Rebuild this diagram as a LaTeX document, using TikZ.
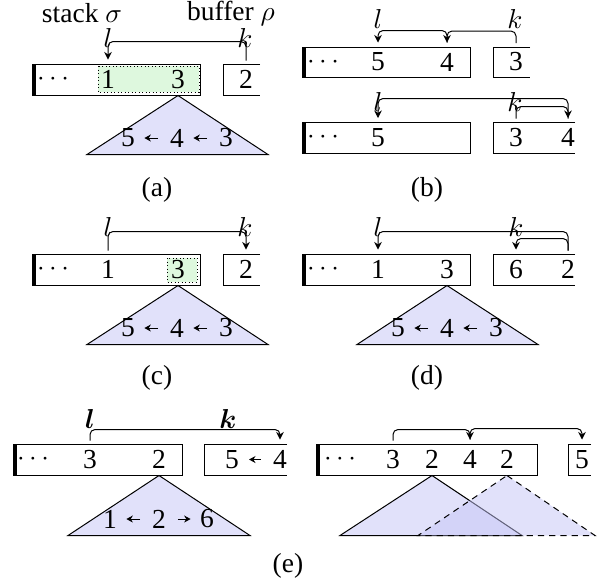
\documentclass[tikz,border=0pt]{standalone}
\usepackage{fontspec}
\setmainfont{Liberation Serif}
\usepackage{bm}
\usetikzlibrary{arrows.meta}

\definecolor{stackgreen}{RGB}{222,248,222}
\definecolor{treeblue}{RGB}{196,196,246}

\begin{document}
\begin{tikzpicture}[
    x=0.4pt, y=-0.4pt,
    font=\fontsize{11}{13}\selectfont,
    >={Stealth[length=3pt,width=3pt]},
    num/.style={inner sep=0pt, minimum height=12.4pt, minimum width=6pt},
    dig/.style={inner sep=0pt},
    idx/.style={inner sep=0.5pt},
    bar/.style={line width=1.6pt},
    arcline/.style={rounded corners=2pt},
    dep/.style={->, >={Stealth[length=2.6pt,width=2.8pt]}, shorten >=3.6pt, shorten <=4.6pt},
    tree/.style={draw, fill=treeblue, fill opacity=0.5},
    hl/.style={draw, densely dotted, fill=stackgreen}
]
\useasboundingbox (0,0) rectangle (606,583);

% (a)
\node[inner sep=1pt] (stacka) at (82,13) {stack $\sigma$};
\node[inner sep=1pt] (bufa) at (231,13) {buffer $\rho$};
\draw (32,64) rectangle (200,95);
\draw[hl] (98,66) rectangle (199,92);
\draw[bar] (34,64) -- (34,95);
\draw (260,64) -- (223,64) -- (223,95) -- (260,95);
\node[num] (dotsa) at (53,79.5) {$\cdots$};
\node[num] (a1) at (108,79.5) {1};
\node[num] (a3) at (178,79.5) {3};
\node[num] (a2) at (246,79.5) {2};
\node[idx] (la) at (108,38) {$l$};
\node[idx] (ka) at (245,38) {$k$};
\draw[arcline,->] ([yshift=1.2pt]a2.north) -- ++(0,-19) -| ([yshift=1.6pt]a1.north);
\draw[tree] (a3.south) -- ++(90,59) -- ++(-181,0) -- cycle;
\node[dig] (ta5) at (128,138) {5};
\node[dig] (ta4) at (177,138) {4};
\node[dig] (ta3) at (226,138) {3};
\draw[dep] (ta4) -- (ta5);
\draw[dep] (ta3) -- (ta4);
\node (capa) at (157,190) {(a)};

% (b), before
\draw (302,47) rectangle (470,77);
\draw[bar] (304,47) -- (304,77);
\draw (530,47) -- (493,47) -- (493,77) -- (530,77);
\node[num] (dotsb) at (323,62) {$\cdots$};
\node[num] (b5) at (378,62) {5};
\node[num] (b4) at (447,62) {4};
\node[num] (b3) at (516,62) {3};
\node[idx] (lb) at (378,19) {$l$};
\node[idx] (kb) at (515,19) {$k$};
\draw[arcline,->] ([yshift=1.2pt]b3.north) -- ++(0,-12) -| ([yshift=1.4pt]b4.north);
\draw[arcline,->] ([yshift=1.4pt]b4.north) -- ++(0,-12) -| ([yshift=1.4pt]b5.north);

% (b), after
\draw (302,122) rectangle (470,153);
\draw[bar] (304,122) -- (304,153);
\draw (575,122) -- (493,122) -- (493,153) -- (575,153);
\node[num] (dotsbb) at (323,137.5) {$\cdots$};
\node[num] (bb5) at (378,137.5) {5};
\node[num] (bb3) at (516,137.5) {3};
\node[num] (bb4) at (568,137.5) {4};
\node[idx] (lbb) at (378,102) {$l$};
\node[idx] (kbb) at (515,102) {$k$};
\draw[arcline,->] ([yshift=1.2pt]bb4.north) -- ++(0,-20) -| ([yshift=1.4pt]bb5.north);
\draw[arcline,->] ([yshift=1.2pt]bb3.north) -- ++(0,-12) -| ([yshift=1.4pt]bb4.north);
\node (capb) at (427,190) {(b)};

% (c)
\draw (32,254) rectangle (200,285);
\draw[hl] (167,258) rectangle (197,282);
\draw[bar] (34,254) -- (34,285);
\draw (260,254) -- (223,254) -- (223,285) -- (260,285);
\node[num] (dotsc) at (53,269.5) {$\cdots$};
\node[num] (c1) at (108,269.5) {1};
\node[num] (c3) at (178,269.5) {3};
\node[num] (c2) at (246,269.5) {2};
\node[idx] (lc) at (108,227) {$l$};
\node[idx] (kc) at (245,227) {$k$};
\draw[arcline,->] ([yshift=1.2pt]c1.north) -- ++(0,-19) -| ([yshift=1.6pt]c2.north);
\draw[tree] (c3.south) -- ++(90,59) -- ++(-181,0) -- cycle;
\node[dig] (tc5) at (128,328) {5};
\node[dig] (tc4) at (177,328) {4};
\node[dig] (tc3) at (226,328) {3};
\draw[dep] (tc4) -- (tc5);
\draw[dep] (tc3) -- (tc4);
\node (capc) at (157,378) {(c)};

% (d)
\draw (302,254) rectangle (470,285);
\draw[bar] (304,254) -- (304,285);
\draw (575,254) -- (493,254) -- (493,285) -- (575,285);
\node[num] (dotsd) at (323,269.5) {$\cdots$};
\node[num] (d1) at (378,269.5) {1};
\node[num] (d3) at (447,269.5) {3};
\node[num] (d6) at (516,269.5) {6};
\node[num] (d2) at (568,269.5) {2};
\node[idx] (ld) at (378,227) {$l$};
\node[idx] (kd) at (516,227) {$k$};
\draw[arcline,->] ([yshift=1.2pt]d2.north) -- ++(0,-19) -| ([yshift=1.6pt]d1.north);
\draw[arcline,->] ([yshift=1.2pt]d2.north) -- ++(0,-12) -| ([yshift=1.6pt]d6.north);
\draw[tree] (d3.south) -- ++(91,59) -- ++(-181,0) -- cycle;
\node[dig] (td5) at (398,328) {5};
\node[dig] (td4) at (447,328) {4};
\node[dig] (td3) at (496,328) {3};
\draw[dep] (td4) -- (td5);
\draw[dep] (td3) -- (td4);
\node (capd) at (427,378) {(d)};

% (e), left
\draw (13,444) rectangle (182,475);
\draw[bar] (15,444) -- (15,475);
\draw (287,444) -- (204,444) -- (204,475) -- (287,475);
\node[num] (dotse) at (33,459.5) {$\cdots$};
\node[num] (e3) at (90,459.5) {3};
\node[num] (e2) at (159,459.5) {2};
\node[num] (eb5) at (232,459.5) {5};
\node[num] (eb4) at (280,459.5) {4};
\draw[dep] (eb4) -- (eb5);
\node[idx] (le) at (90,419) {$\bm{l}$};
\node[idx] (ke) at (228,419) {$\bm{k}$};
\draw[arcline,->] ([yshift=1.2pt]e3.north) -- ++(0,-11) -| ([yshift=1.6pt]eb4.north);
\draw[tree] (e2.south) -- ++(91,60) -- ++(-182,0) -- cycle;
\node[dig] (te1) at (110,519) {1};
\node[dig] (te2) at (159,519) {2};
\node[dig] (te6) at (207,519) {6};
\draw[dep] (te2) -- (te1);
\draw[dep] (te2) -- (te6);

% (e), right
\draw (316,444) rectangle (537,475);
\draw[bar] (318,444) -- (318,475);
\draw (591,444) -- (568,444) -- (568,475) -- (591,475);
\node[num] (dotsf) at (340,459.5) {$\cdots$};
\node[num] (f3) at (393,459.5) {3};
\node[num] (f2) at (432,459.5) {2};
\node[num] (f4) at (470,459.5) {4};
\node[num] (fb2) at (507,459.5) {2};
\node[num] (f5) at (582,459.5) {5};
\draw[arcline,->] ([yshift=1.2pt]f3.north) -- ++(0,-11) -| ([yshift=1.6pt]f4.north);
\draw[arcline,->] ([yshift=1.6pt]f4.north) -- ++(0,-11) -| ([yshift=1.6pt]f5.north);
\draw[tree] (f2.south) -- ++(90,60) -- ++(-182,0) -- cycle;
\draw[tree, dash pattern=on 2.5pt off 2pt] (fb2.south) -- ++(88,60) -- ++(-177,0) -- cycle;
\node (cape) at (288,566) {(e)};

\end{tikzpicture}
\end{document}
